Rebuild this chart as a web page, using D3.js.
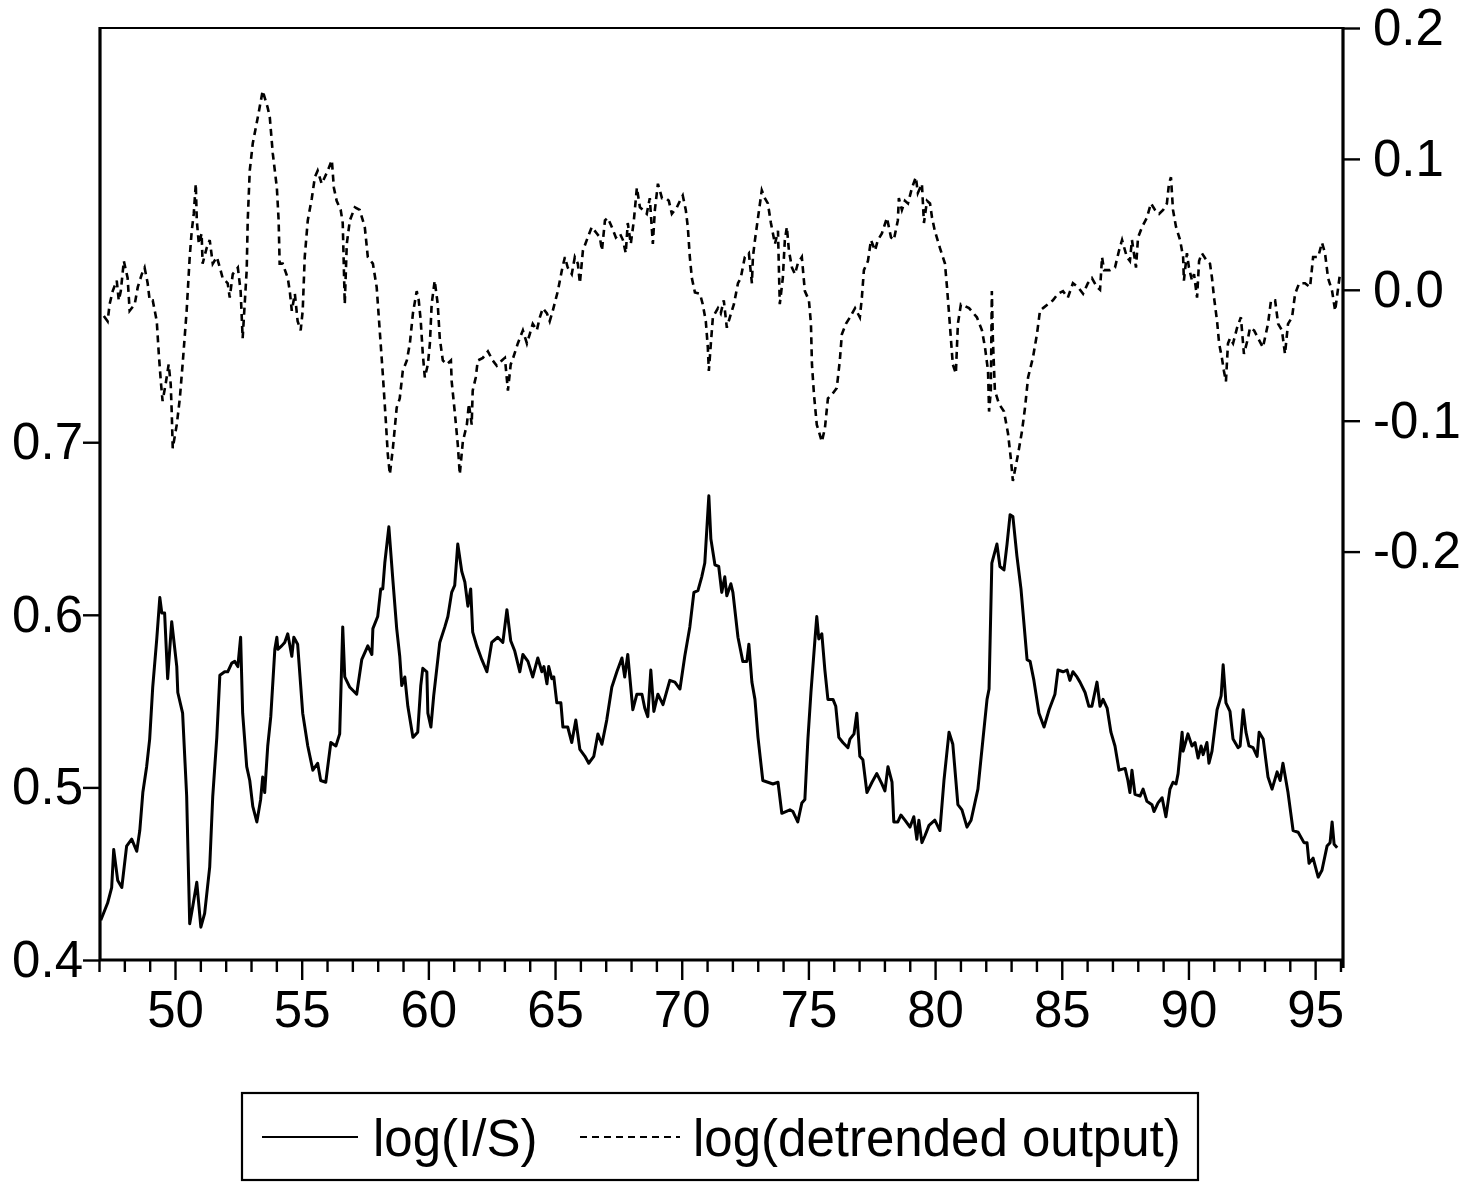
<!DOCTYPE html>
<html><head><meta charset="utf-8">
<script src="https://cdn.jsdelivr.net/npm/d3@7/dist/d3.min.js"></script>
<style>
html,body{margin:0;padding:0;background:#fff;}
svg{display:block;}
text{font-family:"Liberation Sans",Arial,sans-serif;fill:#000;}
</style></head>
<body><svg id="c" width="1460" height="1183"></svg>
<script>
// ---- Data ----
const isYears = [1947.07,1947.34,1947.50,1947.58,1947.74,1947.90,1948.09,1948.29,1948.49,1948.61,1948.73,1948.88,1949.00,1949.12,1949.28,1949.40,1949.48,1949.59,1949.71,1949.87,1950.07,1950.11,1950.30,1950.46,1950.58,1950.70,1950.86,1951.02,1951.17,1951.37,1951.49,1951.65,1951.77,1951.96,1952.08,1952.24,1952.36,1952.48,1952.59,1952.67,1952.83,1952.95,1953.07,1953.23,1953.38,1953.46,1953.54,1953.66,1953.78,1953.94,1954.02,1954.06,1954.21,1954.33,1954.45,1954.61,1954.69,1954.84,1955.04,1955.24,1955.44,1955.63,1955.75,1955.95,1956.15,1956.35,1956.50,1956.62,1956.70,1956.90,1957.17,1957.37,1957.61,1957.77,1957.81,1958.00,1958.12,1958.20,1958.28,1958.44,1958.60,1958.75,1958.87,1958.95,1959.07,1959.19,1959.39,1959.58,1959.70,1959.78,1959.94,1959.98,1960.10,1960.21,1960.45,1960.65,1960.77,1960.92,1961.04,1961.16,1961.32,1961.44,1961.56,1961.67,1961.75,1961.91,1962.11,1962.31,1962.50,1962.74,1962.94,1963.10,1963.25,1963.41,1963.61,1963.73,1963.93,1964.12,1964.32,1964.48,1964.56,1964.68,1964.75,1964.87,1964.95,1965.07,1965.23,1965.31,1965.50,1965.66,1965.82,1965.98,1966.18,1966.33,1966.53,1966.69,1966.85,1967.04,1967.24,1967.44,1967.64,1967.75,1967.87,1968.07,1968.23,1968.43,1968.54,1968.66,1968.78,1968.90,1969.06,1969.26,1969.53,1969.73,1969.93,1970.12,1970.32,1970.48,1970.64,1970.79,1970.91,1971.07,1971.15,1971.31,1971.46,1971.58,1971.70,1971.78,1971.94,1972.02,1972.22,1972.41,1972.57,1972.65,1972.77,1972.89,1973.01,1973.20,1973.40,1973.60,1973.80,1973.95,1974.11,1974.27,1974.39,1974.58,1974.74,1974.86,1974.98,1975.10,1975.26,1975.33,1975.41,1975.53,1975.65,1975.77,1975.97,1976.08,1976.20,1976.36,1976.56,1976.64,1976.80,1976.91,1977.03,1977.15,1977.31,1977.51,1977.70,1977.90,1978.02,1978.14,1978.30,1978.37,1978.53,1978.65,1978.81,1979.01,1979.16,1979.28,1979.36,1979.48,1979.60,1979.76,1979.99,1980.19,1980.35,1980.55,1980.70,1980.90,1981.06,1981.26,1981.42,1981.69,1981.89,1982.05,1982.13,1982.24,1982.44,1982.56,1982.72,1982.84,1982.96,1983.07,1983.23,1983.39,1983.63,1983.75,1983.90,1984.10,1984.30,1984.50,1984.73,1984.85,1985.05,1985.21,1985.32,1985.44,1985.60,1985.72,1985.92,1986.07,1986.19,1986.39,1986.51,1986.63,1986.79,1986.94,1987.10,1987.26,1987.50,1987.61,1987.69,1987.77,1987.89,1988.09,1988.21,1988.36,1988.56,1988.64,1988.80,1988.96,1989.11,1989.27,1989.39,1989.51,1989.59,1989.75,1989.79,1989.98,1990.14,1990.26,1990.38,1990.50,1990.58,1990.73,1990.81,1990.93,1991.13,1991.29,1991.37,1991.48,1991.64,1991.76,1991.96,1992.04,1992.16,1992.27,1992.39,1992.55,1992.71,1992.79,1992.95,1993.14,1993.30,1993.50,1993.62,1993.73,1993.93,1994.13,1994.33,1994.56,1994.68,1994.76,1994.92,1995.12,1995.27,1995.47,1995.59,1995.67,1995.75,1995.87];
const isValues = [0.423,0.433,0.442,0.464,0.446,0.442,0.466,0.470,0.463,0.475,0.497,0.512,0.528,0.558,0.586,0.610,0.601,0.601,0.563,0.596,0.570,0.555,0.543,0.495,0.421,0.431,0.445,0.419,0.427,0.454,0.495,0.529,0.565,0.567,0.567,0.572,0.573,0.570,0.587,0.543,0.512,0.504,0.489,0.480,0.493,0.506,0.497,0.524,0.541,0.580,0.587,0.580,0.582,0.584,0.589,0.576,0.587,0.583,0.543,0.524,0.510,0.514,0.504,0.503,0.526,0.524,0.531,0.593,0.564,0.558,0.554,0.574,0.582,0.577,0.592,0.599,0.615,0.615,0.630,0.651,0.620,0.592,0.576,0.559,0.564,0.547,0.529,0.532,0.559,0.569,0.567,0.543,0.535,0.553,0.584,0.593,0.599,0.613,0.617,0.641,0.625,0.619,0.605,0.615,0.590,0.582,0.574,0.567,0.584,0.587,0.584,0.603,0.585,0.579,0.567,0.577,0.573,0.564,0.575,0.567,0.570,0.560,0.570,0.563,0.564,0.549,0.549,0.535,0.535,0.526,0.539,0.522,0.518,0.514,0.518,0.531,0.525,0.539,0.558,0.567,0.575,0.564,0.577,0.545,0.554,0.554,0.546,0.541,0.568,0.544,0.554,0.548,0.562,0.561,0.557,0.576,0.593,0.613,0.614,0.622,0.630,0.669,0.644,0.629,0.628,0.613,0.622,0.611,0.618,0.613,0.587,0.573,0.573,0.583,0.561,0.551,0.529,0.504,0.503,0.502,0.503,0.485,0.486,0.487,0.486,0.480,0.491,0.493,0.528,0.555,0.586,0.599,0.586,0.589,0.568,0.551,0.551,0.547,0.529,0.526,0.523,0.528,0.531,0.543,0.518,0.516,0.497,0.503,0.508,0.502,0.498,0.512,0.503,0.480,0.480,0.484,0.481,0.477,0.483,0.470,0.481,0.468,0.472,0.478,0.481,0.475,0.504,0.532,0.525,0.490,0.487,0.477,0.481,0.499,0.528,0.551,0.557,0.630,0.641,0.628,0.626,0.641,0.658,0.657,0.634,0.615,0.574,0.573,0.562,0.543,0.535,0.545,0.554,0.568,0.567,0.568,0.562,0.567,0.564,0.561,0.555,0.547,0.547,0.561,0.547,0.551,0.546,0.532,0.524,0.510,0.511,0.504,0.497,0.510,0.496,0.495,0.499,0.492,0.490,0.486,0.491,0.494,0.483,0.499,0.503,0.502,0.508,0.532,0.521,0.531,0.524,0.526,0.517,0.524,0.519,0.526,0.514,0.521,0.545,0.553,0.571,0.549,0.544,0.528,0.523,0.524,0.545,0.532,0.524,0.523,0.518,0.532,0.528,0.506,0.499,0.509,0.504,0.514,0.497,0.475,0.474,0.468,0.468,0.456,0.459,0.448,0.452,0.466,0.468,0.480,0.467,0.465];

const outYears = [1947.19,1947.34,1947.42,1947.54,1947.70,1947.78,1947.86,1947.98,1948.13,1948.21,1948.41,1948.53,1948.69,1948.80,1948.92,1949.00,1949.12,1949.28,1949.36,1949.44,1949.51,1949.63,1949.75,1949.83,1949.87,1949.91,1950.07,1950.19,1950.30,1950.46,1950.58,1950.66,1950.74,1950.82,1950.86,1950.94,1951.05,1951.09,1951.25,1951.37,1951.49,1951.65,1951.77,1951.88,1952.08,1952.16,1952.28,1952.48,1952.59,1952.67,1952.75,1952.83,1952.87,1952.95,1953.07,1953.27,1953.46,1953.66,1953.74,1953.86,1954.02,1954.09,1954.13,1954.25,1954.45,1954.53,1954.61,1954.73,1954.84,1954.96,1955.04,1955.12,1955.24,1955.40,1955.52,1955.63,1955.79,1955.91,1956.03,1956.19,1956.27,1956.38,1956.54,1956.62,1956.70,1956.78,1956.90,1957.10,1957.29,1957.49,1957.61,1957.81,1957.96,1958.08,1958.20,1958.32,1958.40,1958.48,1958.60,1958.75,1958.87,1958.99,1959.15,1959.27,1959.39,1959.54,1959.62,1959.70,1959.78,1959.86,1959.98,1960.06,1960.13,1960.25,1960.37,1960.45,1960.57,1960.73,1960.89,1960.92,1961.04,1961.16,1961.24,1961.36,1961.52,1961.60,1961.71,1961.75,1961.87,1961.95,1962.15,1962.35,1962.54,1962.70,1962.90,1963.02,1963.14,1963.25,1963.33,1963.53,1963.73,1963.89,1964.00,1964.12,1964.28,1964.40,1964.52,1964.68,1964.79,1964.91,1965.11,1965.27,1965.39,1965.50,1965.66,1965.78,1965.90,1965.98,1966.10,1966.29,1966.45,1966.65,1966.77,1966.85,1966.97,1967.08,1967.24,1967.40,1967.56,1967.68,1967.79,1967.87,1967.99,1968.11,1968.23,1968.35,1968.47,1968.62,1968.74,1968.86,1968.94,1969.06,1969.22,1969.37,1969.49,1969.61,1969.81,1969.93,1970.04,1970.16,1970.24,1970.32,1970.40,1970.52,1970.72,1970.83,1970.95,1971.03,1971.07,1971.15,1971.23,1971.43,1971.54,1971.66,1971.78,1971.90,1972.06,1972.22,1972.33,1972.49,1972.65,1972.77,1972.81,1972.89,1973.01,1973.16,1973.28,1973.40,1973.52,1973.68,1973.80,1973.83,1973.87,1973.99,1974.07,1974.15,1974.23,1974.35,1974.47,1974.58,1974.74,1974.86,1975.02,1975.10,1975.14,1975.22,1975.33,1975.41,1975.53,1975.65,1975.77,1975.93,1976.12,1976.24,1976.32,1976.48,1976.64,1976.84,1977.03,1977.11,1977.19,1977.35,1977.47,1977.63,1977.74,1977.90,1978.10,1978.26,1978.37,1978.53,1978.57,1978.69,1978.81,1978.93,1979.09,1979.24,1979.32,1979.48,1979.56,1979.68,1979.80,1979.88,1979.99,1980.19,1980.39,1980.47,1980.55,1980.63,1980.70,1980.82,1980.90,1981.02,1981.14,1981.34,1981.65,1981.85,1981.97,1982.09,1982.13,1982.20,1982.24,1982.28,1982.36,1982.52,1982.72,1982.88,1982.99,1983.07,1983.27,1983.43,1983.55,1983.67,1983.86,1984.02,1984.14,1984.26,1984.46,1984.65,1984.85,1985.05,1985.24,1985.44,1985.64,1985.84,1986.03,1986.19,1986.39,1986.51,1986.59,1986.67,1986.90,1987.10,1987.26,1987.38,1987.57,1987.69,1987.77,1987.93,1988.01,1988.17,1988.36,1988.52,1988.68,1988.84,1989.00,1989.15,1989.23,1989.31,1989.39,1989.51,1989.67,1989.79,1989.82,1989.94,1990.02,1990.14,1990.22,1990.34,1990.42,1990.53,1990.73,1990.85,1990.93,1991.01,1991.13,1991.21,1991.32,1991.40,1991.48,1991.56,1991.64,1991.76,1991.92,1992.07,1992.19,1992.35,1992.43,1992.59,1992.75,1992.94,1993.14,1993.26,1993.42,1993.54,1993.69,1993.81,1993.93,1994.09,1994.21,1994.37,1994.60,1994.80,1994.92,1995.12,1995.27,1995.39,1995.51,1995.67,1995.79,1995.98];
const outValues = [-0.020,-0.024,-0.011,-0.001,0.007,-0.008,-0.001,0.022,0.009,-0.016,-0.011,0.002,0.012,0.017,0.005,-0.008,-0.008,-0.024,-0.049,-0.070,-0.085,-0.072,-0.057,-0.072,-0.093,-0.121,-0.103,-0.083,-0.057,-0.016,0.025,0.045,0.058,0.081,0.053,0.035,0.043,0.020,0.032,0.038,0.020,0.025,0.017,0.009,0.005,-0.006,0.012,0.017,-0.001,-0.037,-0.011,0.015,0.053,0.091,0.112,0.132,0.152,0.139,0.132,0.104,0.078,0.053,0.020,0.020,0.009,-0.001,-0.016,-0.003,-0.024,-0.031,-0.016,0.025,0.053,0.070,0.086,0.091,0.081,0.086,0.091,0.099,0.078,0.068,0.061,0.051,-0.011,0.035,0.053,0.063,0.061,0.048,0.025,0.020,0.002,-0.031,-0.064,-0.100,-0.126,-0.141,-0.121,-0.090,-0.083,-0.062,-0.054,-0.041,-0.018,-0.001,-0.008,-0.024,-0.049,-0.067,-0.057,-0.041,-0.011,0.007,-0.011,-0.037,-0.054,-0.057,-0.054,-0.070,-0.093,-0.118,-0.141,-0.116,-0.103,-0.087,-0.103,-0.077,-0.067,-0.054,-0.052,-0.047,-0.054,-0.058,-0.054,-0.052,-0.077,-0.057,-0.053,-0.041,-0.031,-0.041,-0.034,-0.026,-0.031,-0.021,-0.014,-0.018,-0.024,-0.016,-0.001,0.015,0.025,0.017,0.012,0.025,0.020,0.005,0.030,0.040,0.048,0.043,0.040,0.030,0.053,0.055,0.048,0.040,0.043,0.038,0.028,0.051,0.035,0.053,0.078,0.063,0.061,0.058,0.070,0.035,0.061,0.081,0.070,0.070,0.068,0.058,0.063,0.068,0.072,0.061,0.048,0.025,0.009,-0.002,-0.003,-0.011,-0.024,-0.044,-0.062,-0.041,-0.021,-0.014,-0.018,-0.008,-0.029,-0.021,-0.011,0.005,0.009,0.025,0.028,0.005,0.025,0.038,0.055,0.076,0.070,0.066,0.051,0.035,0.045,0.020,-0.011,0.009,0.038,0.048,0.030,0.017,0.012,0.020,0.025,-0.001,-0.008,-0.026,-0.057,-0.080,-0.103,-0.108,-0.116,-0.106,-0.083,-0.080,-0.075,-0.054,-0.034,-0.026,-0.021,-0.014,-0.021,-0.006,0.015,0.022,0.038,0.030,0.038,0.043,0.055,0.040,0.038,0.053,0.070,0.061,0.068,0.066,0.078,0.086,0.074,0.081,0.051,0.068,0.066,0.055,0.045,0.032,0.020,0.002,-0.018,-0.039,-0.057,-0.064,-0.026,-0.011,-0.012,-0.014,-0.021,-0.031,-0.044,-0.062,-0.093,-0.077,-0.001,-0.037,-0.077,-0.087,-0.093,-0.110,-0.129,-0.146,-0.126,-0.108,-0.090,-0.067,-0.052,-0.034,-0.016,-0.014,-0.011,-0.008,-0.003,-0.001,-0.006,0.005,0.002,-0.003,0.005,0.009,0.002,0.000,0.025,0.015,0.015,0.017,0.030,0.038,0.025,0.022,0.038,0.017,0.040,0.048,0.055,0.066,0.061,0.058,0.061,0.066,0.081,0.086,0.061,0.048,0.038,0.025,0.007,0.028,0.017,0.007,0.012,-0.006,0.022,0.028,0.022,0.020,0.009,-0.006,-0.024,-0.041,-0.052,-0.062,-0.070,-0.041,-0.037,-0.041,-0.029,-0.021,-0.049,-0.037,-0.029,-0.031,-0.037,-0.044,-0.026,-0.008,-0.008,-0.026,-0.031,-0.049,-0.026,-0.021,-0.003,0.005,0.005,0.002,0.025,0.025,0.036,0.028,0.009,-0.001,-0.016,0.012];

const xTickYears = d3.range(1947, 1997);
const leftTicks = [0.4, 0.5, 0.6, 0.7];
const rightTicks = [-0.2, -0.1, 0.0, 0.1, 0.2];
const legendLabels = ["log(I/S)", "log(detrended output)"];

// ---- Layout ----
const L = 100, R = 1343, T = 28, B = 960;
const svg = d3.select("#c");
svg.append("rect").attr("width",1460).attr("height",1183).attr("fill","#fff");

const x = d3.scaleLinear().domain([1947, 1996.1]).range([99, R]);
const yL = d3.scaleLinear().domain([0.4, 0.94]).range([B, T]);
const yR = d3.scaleLinear().domain([-0.512, 0.2]).range([B, T]);

const FS = 51;
const FONT = '"Liberation Sans",Arial,sans-serif';

// x axis
const gx = svg.append("g").attr("transform",`translate(0,${B})`)
  .call(d3.axisBottom(x).tickValues(xTickYears).tickSize(20).tickPadding(11)
    .tickFormat(d => d % 5 === 0 ? String(d % 100) : ""));
gx.select(".domain").remove();
gx.selectAll(".tick line").attr("stroke","#000").attr("stroke-width",2.4)
  .attr("y2", d => d % 5 === 0 ? 20 : 12);
gx.selectAll(".tick text").attr("font-size",FS).attr("font-family",FONT);

// left axis
const gl = svg.append("g").attr("transform",`translate(${L},0)`)
  .call(d3.axisLeft(yL).tickValues(leftTicks).tickSize(17).tickPadding(0).tickFormat(d3.format(".1f")));
gl.select(".domain").remove();
gl.selectAll(".tick line").attr("stroke","#000").attr("stroke-width",2.4);
gl.selectAll(".tick text").attr("font-size",FS).attr("font-family",FONT);

// right axis
const gr = svg.append("g").attr("transform",`translate(${R},0)`)
  .call(d3.axisRight(yR).tickValues(rightTicks).tickSize(17).tickPadding(13).tickFormat(d3.format(".1f")));
gr.select(".domain").remove();
gr.selectAll(".tick line").attr("stroke","#000").attr("stroke-width",2.4);
gr.selectAll(".tick text").attr("font-size",FS).attr("font-family",FONT)
  .text(d => d3.format(".1f")(d).replace("−","-"));

// frame
svg.append("line").attr("x1",L).attr("x2",L).attr("y1",T-1).attr("y2",B+1).attr("stroke","#000").attr("stroke-width",3.2);
svg.append("line").attr("x1",L).attr("x2",R).attr("y1",B).attr("y2",B).attr("stroke","#000").attr("stroke-width",3.2);
svg.append("line").attr("x1",R).attr("x2",R).attr("y1",T-1).attr("y2",B+8).attr("stroke","#000").attr("stroke-width",3.2);
svg.append("line").attr("x1",L).attr("x2",R).attr("y1",T).attr("y2",T).attr("stroke","#000").attr("stroke-width",2.2);

// series
const isData = isYears.map((t,i)=>({t, v:isValues[i]}));
const outData = outYears.map((t,i)=>({t, v:outValues[i]}));
svg.append("path").datum(isData)
  .attr("d", d3.line().x(d=>x(d.t)).y(d=>yL(d.v)))
  .attr("fill","none").attr("stroke","#000").attr("stroke-width",3).attr("stroke-linejoin","round");
svg.append("path").datum(outData)
  .attr("d", d3.line().x(d=>x(d.t)).y(d=>yR(d.v)))
  .attr("fill","none").attr("stroke","#000").attr("stroke-width",2.6)
  .attr("stroke-dasharray","7,5");

// legend
const lg = svg.append("g");
lg.append("rect").attr("x",242).attr("y",1093).attr("width",956).attr("height",87)
  .attr("fill","none").attr("stroke","#000").attr("stroke-width",2.2);
lg.append("line").attr("x1",262).attr("x2",358).attr("y1",1137).attr("y2",1137).attr("stroke","#000").attr("stroke-width",2.2);
lg.append("text").attr("x",373).attr("y",1156).attr("font-size",51).attr("font-family",FONT).text(legendLabels[0]);
lg.append("line").attr("x1",580).attr("x2",680).attr("y1",1137).attr("y2",1137).attr("stroke","#000").attr("stroke-width",2.2).attr("stroke-dasharray","7,5");
lg.append("text").attr("x",693).attr("y",1156).attr("font-size",51).attr("font-family",FONT).text(legendLabels[1]);
</script></body></html>
